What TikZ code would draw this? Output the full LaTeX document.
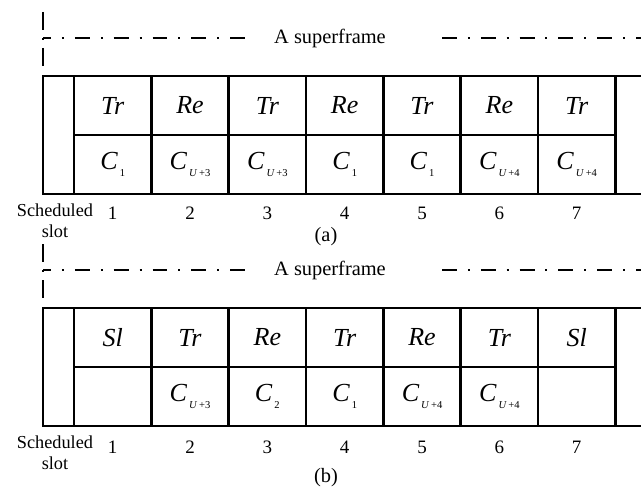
\documentclass[tikz,border=0pt]{standalone}
\usepackage{fontspec}
\setmainfont{Liberation Serif}
\usetikzlibrary{positioning}
\tikzset{
  slot-cell/.style={draw,line width=2pt,minimum width=1.933cm,minimum height=1.475cm,
    inner sep=0pt,outer sep=0pt,font=\fontsize{18.5}{18.5}\selectfont\itshape},
  guard-cell/.style={draw,line width=2pt,minimum width=0.775cm,minimum height=2.95cm,
    inner sep=0pt,outer sep=0pt},
  end-cell/.style={guard-cell,minimum width=1.933cm},
  frame-line/.style={line width=1.4pt,dash pattern=on 10.6pt off 7.8pt on 1.4pt off 7.8pt},
  frame-mark/.style={line width=1.4pt,dash pattern=on 12.8pt off 5.7pt on 1.4pt off 5.7pt},
  slot-num/.style={font=\fontsize{13.5}{14}\selectfont,inner sep=1pt},
  slot-label/.style={font=\fontsize{13}{15}\selectfont,align=center,inner sep=1pt},
  frame-label/.style={font=\fontsize{14.5}{15}\selectfont,inner sep=1pt},
}
\newcommand{\chan}[1]{\textit{C}\kern1.5pt\raisebox{-5pt}{\fontsize{7.5}{7.5}\selectfont\upshape #1}}
\newcommand{\uidx}[1]{\textit{U}\kern1.2pt+#1}

\begin{document}
\begin{tikzpicture}[x=0.025cm,y=-0.025cm]
  \useasboundingbox (0,0) rectangle (641,490);
  \clip (0,0) rectangle (641,490);

  % (a) superframe
  \coordinate (vat) at (43,12);
  \coordinate (vab) at (43,66);
  \coordinate (hal) at (43,38);
  \coordinate (har) at (248,38);
  \coordinate (hbl) at (442,38);
  \coordinate (hbr) at (641,38);
  \draw[frame-mark] (vat) -- (vab);
  \draw[frame-line,dash phase=4.9pt] (hal) -- (har);
  \draw[frame-line] (hbl) -- (hbr);
  \node[frame-label] (sfa) at (330,38) {A superframe};

  \node[guard-cell] (ga) at (58.5,135) {};
  \node[slot-cell,anchor=north west] (ta1) at (ga.north east) {Tr};
  \node[slot-cell,right=0pt of ta1] (ta2) {Re};
  \node[slot-cell,right=0pt of ta2] (ta3) {Tr};
  \node[slot-cell,right=0pt of ta3] (ta4) {Re};
  \node[slot-cell,right=0pt of ta4] (ta5) {Tr};
  \node[slot-cell,right=0pt of ta5] (ta6) {Re};
  \node[slot-cell,right=0pt of ta6] (ta7) {Tr};
  \node[end-cell,anchor=north west] (ea) at (ta7.north east) {};
  \node[slot-cell,below=0pt of ta1] (ca1) {\chan{1}};
  \node[slot-cell,below=0pt of ta2] (ca2) {\chan{\uidx{3}}};
  \node[slot-cell,below=0pt of ta3] (ca3) {\chan{\uidx{3}}};
  \node[slot-cell,below=0pt of ta4] (ca4) {\chan{1}};
  \node[slot-cell,below=0pt of ta5] (ca5) {\chan{1}};
  \node[slot-cell,below=0pt of ta6] (ca6) {\chan{\uidx{4}}};
  \node[slot-cell,below=0pt of ta7] (ca7) {\chan{\uidx{4}}};

  \node[slot-label] (sla) at (55,221) {Scheduled\\slot};
  \node[slot-num] (na1) at (ca1 |- 0,213) {1};
  \node[slot-num] (na2) at (ca2 |- 0,213) {2};
  \node[slot-num] (na3) at (ca3 |- 0,213) {3};
  \node[slot-num] (na4) at (ca4 |- 0,213) {4};
  \node[slot-num] (na5) at (ca5 |- 0,213) {5};
  \node[slot-num] (na6) at (ca6 |- 0,213) {6};
  \node[slot-num] (na7) at (ca7 |- 0,213) {7};
  \node[frame-label] (lba) at (326,237) {(a)};

  % (b) superframe
  \begin{scope}[yshift=-5.8cm]
    \coordinate (vbt) at (43,12);
    \coordinate (vbb) at (43,66);
    \coordinate (hcl) at (43,38);
    \coordinate (hcr) at (248,38);
    \coordinate (hdl) at (442,38);
    \coordinate (hdr) at (641,38);
    \draw[frame-mark] (vbt) -- (vbb);
    \draw[frame-line,dash phase=4.9pt] (hcl) -- (hcr);
    \draw[frame-line] (hdl) -- (hdr);
    \node[frame-label] (sfb) at (330,38) {A superframe};

    \node[guard-cell] (gb) at (58.5,135) {};
    \node[slot-cell,anchor=north west] (tb1) at (gb.north east) {Sl};
    \node[slot-cell,right=0pt of tb1] (tb2) {Tr};
    \node[slot-cell,right=0pt of tb2] (tb3) {Re};
    \node[slot-cell,right=0pt of tb3] (tb4) {Tr};
    \node[slot-cell,right=0pt of tb4] (tb5) {Re};
    \node[slot-cell,right=0pt of tb5] (tb6) {Tr};
    \node[slot-cell,right=0pt of tb6] (tb7) {Sl};
    \node[end-cell,anchor=north west] (eb) at (tb7.north east) {};
    \node[slot-cell,below=0pt of tb1] (cb1) {};
    \node[slot-cell,below=0pt of tb2] (cb2) {\chan{\uidx{3}}};
    \node[slot-cell,below=0pt of tb3] (cb3) {\chan{2}};
    \node[slot-cell,below=0pt of tb4] (cb4) {\chan{1}};
    \node[slot-cell,below=0pt of tb5] (cb5) {\chan{\uidx{4}}};
    \node[slot-cell,below=0pt of tb6] (cb6) {\chan{\uidx{4}}};
    \node[slot-cell,below=0pt of tb7] (cb7) {};

    \node[slot-label] (slb) at (55,221) {Scheduled\\slot};
    \node[slot-num] (nb1) at (cb1 |- 0,215) {1};
    \node[slot-num] (nb2) at (cb2 |- 0,215) {2};
    \node[slot-num] (nb3) at (cb3 |- 0,215) {3};
    \node[slot-num] (nb4) at (cb4 |- 0,215) {4};
    \node[slot-num] (nb5) at (cb5 |- 0,215) {5};
    \node[slot-num] (nb6) at (cb6 |- 0,215) {6};
    \node[slot-num] (nb7) at (cb7 |- 0,215) {7};
    \node[frame-label] (lbb) at (326,246) {(b)};
  \end{scope}
\end{tikzpicture}
\end{document}
